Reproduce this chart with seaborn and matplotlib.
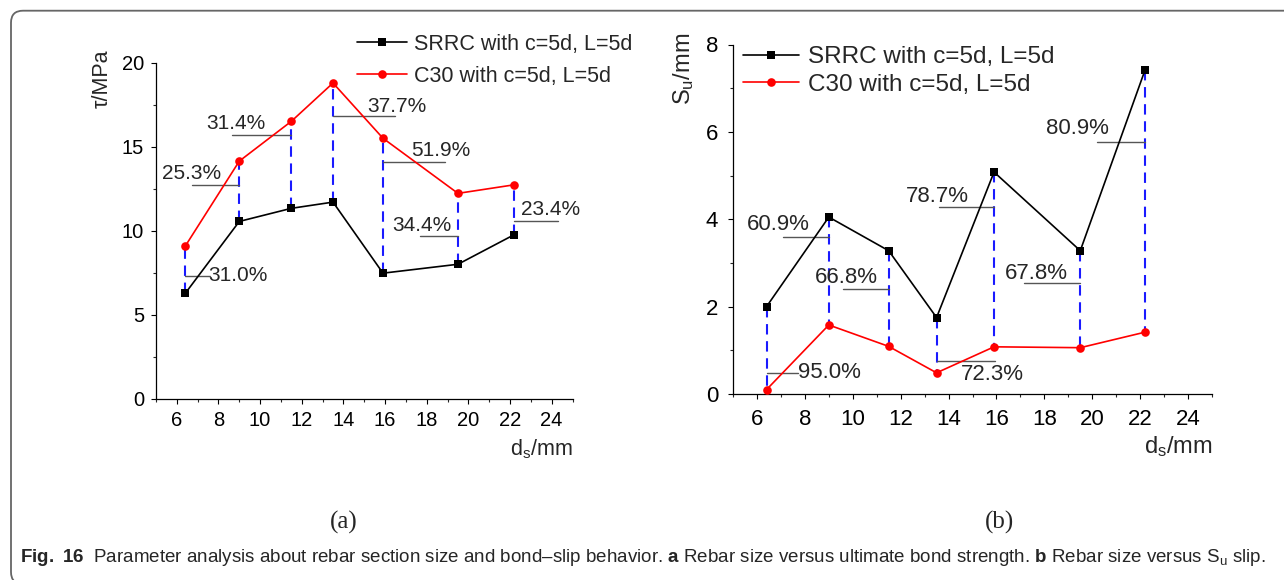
import matplotlib
matplotlib.use("Agg")
import matplotlib.pyplot as plt
import seaborn as sns
from matplotlib import font_manager
from matplotlib.patches import FancyBboxPatch
from matplotlib.transforms import IdentityTransform
from matplotlib.ticker import MultipleLocator

# ---- data -------------------------------------------------------------
diameters = [6.4, 9.0, 11.5, 13.5, 15.9, 19.5, 22.2]          # d_s (mm)
series_names = ["SRRC with c=5d, L=5d", "C30 with c=5d, L=5d"]

tau_srrc = [6.28, 10.57, 11.35, 11.72, 7.49, 8.02, 9.78]      # MPa
tau_c30 = [9.09, 14.16, 16.53, 18.81, 15.52, 12.24, 12.75]     # MPa
tau_pct = ["31.0%", "25.3%", "31.4%", "37.7%", "51.9%", "34.4%", "23.4%"]

su_srrc = [2.00, 4.05, 3.28, 1.75, 5.08, 3.28, 7.41]           # mm
su_c30 = [0.10, 1.58, 1.09, 0.485, 1.08, 1.06, 1.415]          # mm
su_pct = ["95.0%", "60.9%", "66.8%", "72.3%", "78.7%", "67.8%", "80.9%"]

x_ticks = [6, 8, 10, 12, 14, 16, 18, 20, 22, 24]

# ---- layout of the percentage call-outs --------------------------------
# (text x, text y, vertical alignment, leader x0, leader x1, leader y)
tau_notes = [
    (7.50, 7.33, "center", 6.40, 7.60, 7.33),
    (5.31, 13.07, "baseline", 6.74, 9.00, 12.71),
    (7.41, 16.10, "baseline", 8.66, 11.50, 15.72),
    (15.14, 17.09, "baseline", 13.50, 16.46, 16.87),
    (17.26, 14.46, "baseline", 15.90, 18.86, 14.12),
    (16.34, 10.00, "baseline", 17.66, 19.50, 9.70),
    (22.54, 10.95, "baseline", 22.20, 24.31, 10.59),
]
su_notes = [
    (7.73, 0.49, "center", 6.40, 7.73, 0.49),
    (5.59, 3.76, "baseline", 7.10, 9.00, 3.60),
    (8.43, 2.54, "baseline", 9.61, 11.50, 2.41),
    (14.51, 0.68, "top", 13.50, 15.96, 0.76),
    (12.23, 4.39, "baseline", 13.60, 15.90, 4.29),
    (16.36, 2.63, "baseline", 17.17, 19.50, 2.53),
    (18.05, 5.94, "baseline", 20.19, 22.20, 5.76),
]

# ---- fonts ------------------------------------------------------------
sns.set_style("ticks")
available = {f.name for f in font_manager.fontManager.ttflist}
has_narrow = "Liberation Sans Narrow" in available
narrow = "Liberation Sans Narrow" if has_narrow else "Liberation Sans"
plt.rcParams["font.family"] = ["Liberation Sans", "DejaVu Sans"]
plt.rcParams["mathtext.fontset"] = "custom"
plt.rcParams["mathtext.rm"] = narrow
plt.rcParams["mathtext.bf"] = narrow + ":bold"
plt.rcParams["mathtext.sf"] = "Liberation Sans"
plt.rcParams["axes.linewidth"] = 0.9

note_size_a = 17 if has_narrow else 15
caption_size = 15.6 if has_narrow else 13.5

W, H = 1284, 580
fig = plt.figure(figsize=(W / 100, H / 100), dpi=100)
fig.patch.set_facecolor("white")


def px_axes(x0, x1, y_top, y_bottom):
    return fig.add_axes([x0 / W, 1 - y_bottom / H, (x1 - x0) / W, (y_bottom - y_top) / H])


ax_a = px_axes(156, 572.5, 63, 399)
ax_b = px_axes(733, 1212, 44.5, 394)


def draw_panel(ax, srrc, c30, pct, notes, ylim, ymajor, yminor,
               tick_size, note_size, note_family, legend_size, legend_anchor,
               handlelength, handletextpad, labelspacing, tick_pad):
    ax.vlines(diameters, srrc, c30, colors="#1a1aff", linestyles=(0, (5, 3.2)),
              lw=1.5, zorder=2)
    sns.lineplot(x=diameters, y=srrc, ax=ax, color="black", marker="s",
                 markersize=5.5, markeredgewidth=0, lw=1.2, legend=False,
                 zorder=3)
    line_s = ax.get_lines()[-1]
    sns.lineplot(x=diameters, y=c30, ax=ax, color="#ff0000", marker="o",
                 markersize=6.2, markeredgewidth=0, lw=1.2, legend=False,
                 zorder=3)
    line_c = ax.get_lines()[-1]

    for label, (tx, ty, va, lx0, lx1, ly) in zip(pct, notes):
        ax.plot([lx0, lx1], [ly, ly], color="#555555", lw=1.0, zorder=2)
        ax.text(tx, ty, label, ha="left", va=va, fontsize=note_size,
                family=note_family, zorder=4)

    ax.set_xlim(5, 25)
    ax.set_ylim(*ylim)
    ax.set_xticks(x_ticks)
    ax.xaxis.set_minor_locator(MultipleLocator(2, offset=1))
    ax.yaxis.set_major_locator(MultipleLocator(ymajor))
    ax.yaxis.set_minor_locator(MultipleLocator(yminor))
    ax.tick_params(which="major", direction="out", length=3.6, width=0.8,
                   labelsize=tick_size, pad=tick_pad, colors="black")
    ax.tick_params(which="minor", direction="out", length=2.2, width=0.8)
    ax.set_xlabel("")
    ax.set_ylabel("")
    sns.despine(ax=ax)
    for s in ("left", "bottom"):
        ax.spines[s].set_color("black")
    ax.set_facecolor("white")

    ax.legend([line_s, line_c], series_names, loc="upper left",
              bbox_to_anchor=legend_anchor, bbox_transform=fig.transFigure,
              frameon=False, fontsize=legend_size, borderpad=0,
              borderaxespad=0, handlelength=handlelength,
              handletextpad=handletextpad, labelspacing=labelspacing)


draw_panel(ax_a, tau_srrc, tau_c30, tau_pct, tau_notes, (0, 20), 5, 2.5,
           tick_size=14.5, note_size=note_size_a, note_family=narrow,
           legend_size=15.5, legend_anchor=(357 / W, 1 - 34 / H),
           handlelength=2.3, handletextpad=0.33, labelspacing=0.5, tick_pad=5)
draw_panel(ax_b, su_srrc, su_c30, su_pct, su_notes, (0, 8), 2, 1,
           tick_size=16, note_size=16, note_family="Liberation Sans",
           legend_size=17.5, legend_anchor=(743 / W, 1 - 46 / H),
           handlelength=2.3, handletextpad=0.36, labelspacing=0.24, tick_pad=7)

# axis titles
fig.text(102 / W, 1 - 49 / H, "τ/MPa", rotation=90, ha="center", va="top",
         fontsize=15.5)
fig.text(572.5 / W, 1 - 455 / H, r"d$\mathsf{_s}$/mm", ha="right",
         va="baseline", fontsize=15.5)
fig.text(684 / W, 1 - 33 / H, r"S$\mathsf{_u}$/mm", rotation=90, ha="center",
         va="top", fontsize=17)
fig.text(1213 / W, 1 - 453 / H, r"d$\mathsf{_s}$/mm", ha="right",
         va="baseline", fontsize=17)

# panel tags and caption
fig.text(344 / W, 1 - 522 / H, "(a)", ha="center", va="center",
         fontsize=18, family="Liberation Serif")
fig.text(1000 / W, 1 - 522 / H, "(b)", ha="center", va="center",
         fontsize=18, family="Liberation Serif")
caption = (r"$\mathbf{Fig.}$ $\mathbf{16}$  Parameter analysis about rebar section size and "
           r"bond–slip behavior. $\mathbf{a}$ Rebar size versus ultimate bond "
           r"strength. $\mathbf{b}$ Rebar size versus S$_\mathrm{u}$ slip.")
fig.text(20 / W, 1 - 557 / H, caption, ha="left", va="center",
         fontsize=caption_size, family=narrow)

# rounded frame around the figure
frame = FancyBboxPatch((11, -4), 1330, 573.3,
                       boxstyle="round,pad=0,rounding_size=12",
                       transform=IdentityTransform(), fill=False,
                       ec="#666666", lw=1.3)
fig.add_artist(frame)

fig.savefig("out.png", dpi=100)
